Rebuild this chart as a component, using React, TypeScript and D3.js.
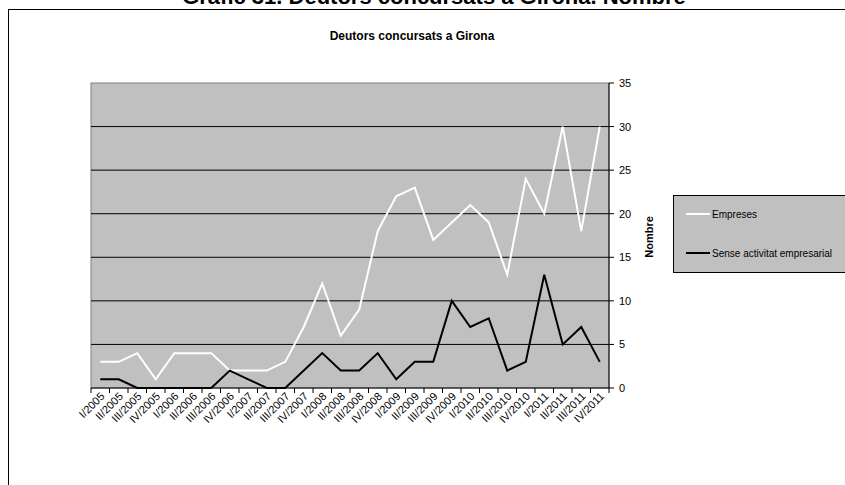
import React from "react";
import * as d3 from "d3";

const quarters = [
  "I/2005","II/2005","III/2005","IV/2005",
  "I/2006","II/2006","III/2006","IV/2006",
  "I/2007","II/2007","III/2007","IV/2007",
  "I/2008","II/2008","III/2008","IV/2008",
  "I/2009","II/2009","III/2009","IV/2009",
  "I/2010","II/2010","III/2010","IV/2010",
  "I/2011","II/2011","III/2011","IV/2011",
];
const empreses = [3,3,4,1,4,4,4,2,2,2,3,7,12,6,9,18,22,23,17,19,21,19,13,24,20,30,18,30];
const senseActivitat = [1,1,0,0,0,0,0,2,1,0,0,2,4,2,2,4,1,3,3,10,7,8,2,3,13,5,7,3];
const yTicks = [0,5,10,15,20,25,30,35];
const seriesNames = ["Empreses", "Sense activitat empresarial"];

const W = 845, H = 485;
const plot = { left: 91, right: 609, top: 83, bottom: 388 };
const font = "'Liberation Sans', Arial, sans-serif";

export default function App() {
  const x = d3.scaleBand<string>().domain(quarters).range([plot.left, plot.right]).padding(0);
  const y = d3.scaleLinear().domain([0, 35]).range([plot.bottom, plot.top]);
  const cx = (q: string) => (x(q) as number) + x.bandwidth() / 2;
  const line = d3.line<number>().x((_, i) => cx(quarters[i])).y((d) => y(d));
  const boundaries = quarters.map((q) => x(q) as number).concat([plot.right]);

  return (
    <svg width={W} height={H} style={{ position: "absolute", left: 0, top: 0 }} fontFamily={font}>
      <rect x={0} y={0} width={W} height={H} fill="#fff" />
      <text x={434} y={4} textAnchor="middle" fontSize={22} fontWeight="bold" fill="#000">
        Gràfic 31. Deutors concursats a Girona. Nombre
      </text>
      <rect x={8.5} y={9.5} width={W} height={H} fill="none" stroke="#000" strokeWidth={1} />
      <text x={412} y={40} textAnchor="middle" fontSize={12} fontWeight="bold" fill="#000">
        Deutors concursats a Girona
      </text>
      {/* plot area */}
      <rect x={plot.left} y={plot.top} width={plot.right - plot.left} height={plot.bottom - plot.top}
        fill="#c0c0c0" stroke="#808080" strokeWidth={1} />
      {yTicks.filter((t) => t > 0 && t < 35).map((t) => (
        <line key={t} x1={plot.left} x2={plot.right} y1={y(t)} y2={y(t)} stroke="#000" strokeWidth={1} />
      ))}
      {/* x axis */}
      <line x1={plot.left} x2={plot.right} y1={plot.bottom} y2={plot.bottom} stroke="#000" strokeWidth={1} />
      {boundaries.map((b, i) => (
        <line key={i} x1={b} x2={b} y1={plot.bottom} y2={plot.bottom + 5} stroke="#000" strokeWidth={1} />
      ))}
      {quarters.map((q) => (
        <text key={q} transform={`translate(${cx(q) + 5},${plot.bottom + 9}) rotate(-45)`}
          textAnchor="end" fontSize={11} fill="#000">
          {q}
        </text>
      ))}
      {/* y axis on right */}
      <line x1={plot.right} x2={plot.right} y1={plot.top} y2={plot.bottom} stroke="#000" strokeWidth={1} />
      {yTicks.map((t) => (
        <g key={t}>
          <line x1={plot.right} x2={plot.right + 5} y1={y(t)} y2={y(t)} stroke="#000" strokeWidth={1} />
          <text x={619} y={y(t) + 4} fontSize={11} fill="#000">{t}</text>
        </g>
      ))}
      <text transform={`translate(653,237) rotate(-90)`} textAnchor="middle" fontSize={11} fontWeight="bold" fill="#000">
        Nombre
      </text>
      {/* lines */}
      <path d={line(empreses) || ""} fill="none" stroke="#fff" strokeWidth={2} strokeLinejoin="miter" />
      <path d={line(senseActivitat) || ""} fill="none" stroke="#000" strokeWidth={2} strokeLinejoin="miter" />
      {/* legend */}
      <rect x={673.5} y={195.5} width={200} height={77} fill="#c0c0c0" stroke="#000" strokeWidth={1} />
      <line x1={686} x2={710} y1={214} y2={214} stroke="#fff" strokeWidth={2} />
      <text x={712} y={217.5} fontSize={10} fill="#000">{seriesNames[0]}</text>
      <line x1={686} x2={710} y1={253} y2={253} stroke="#000" strokeWidth={2} />
      <text x={712} y={256.5} fontSize={10} fill="#000">{seriesNames[1]}</text>
    </svg>
  );
}
